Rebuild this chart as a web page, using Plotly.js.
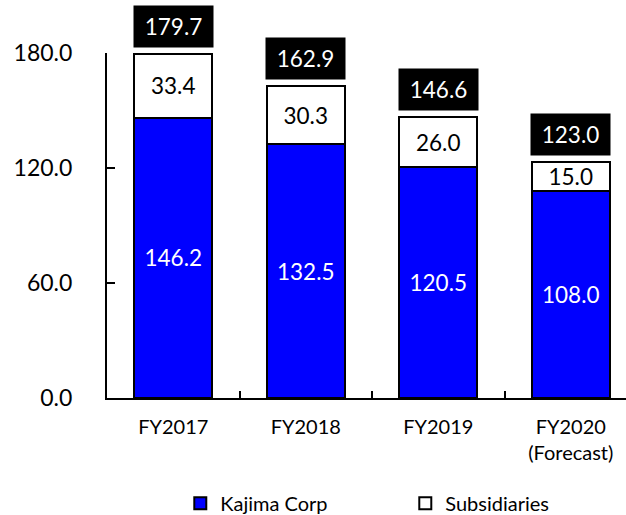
<!DOCTYPE html>
<html>
<head>
<meta charset="utf-8">
<script src="https://cdn.plot.ly/plotly-3.0.1.min.js"></script>
<style>html,body{margin:0;padding:0;background:#fff;}#chart{width:626px;height:515px;}</style>
</head>
<body>
<div id="chart"></div>
<script>
// Data
const categories = ["FY2017", "FY2018", "FY2019", "FY2020<br>(Forecast)"];
const kajimaCorp = [146.2, 132.5, 120.5, 108.0];
const subsidiaries = [33.4, 30.3, 26.0, 15.0];
const totals = [179.7, 162.9, 146.6, 123.0];
const yTicks = [0, 60, 120, 180];

const FONT = "Lato, 'Open Sans', sans-serif";

const traces = [
  {
    type: "bar",
    name: "Kajima Corp",
    x: categories,
    y: kajimaCorp,
    marker: {color: "#0000FF", line: {color: "#000000", width: 2}},
    text: kajimaCorp.map(v => v.toFixed(1)),
    textposition: "inside",
    insidetextanchor: "middle",
    constraintext: "none",
    textfont: {family: FONT, size: 22.5, color: "#FFFFFF"},
    hoverinfo: "none",
    cliponaxis: false
  },
  {
    type: "bar",
    name: "Subsidiaries",
    x: categories,
    y: subsidiaries,
    marker: {color: "#FFFFFF", line: {color: "#000000", width: 2}},
    text: subsidiaries.map(v => v.toFixed(1)),
    textposition: "inside",
    insidetextanchor: "middle",
    constraintext: "none",
    textfont: {family: FONT, size: 22.5, color: "#000000"},
    hoverinfo: "none",
    cliponaxis: false
  }
];

const annotations = categories.map((c, i) => ({
  x: c,
  y: totals[i],
  xref: "x",
  yref: "y",
  text: totals[i].toFixed(1),
  showarrow: false,
  yanchor: "bottom",
  xanchor: "center",
  yshift: 6,
  bgcolor: "#000000",
  borderpad: 0,
  width: 79,
  height: 41,
  font: {family: FONT, size: 22.5, color: "#FFFFFF"}
}));

const layout = {
  width: 626,
  height: 515,
  margin: {l: 107, r: 0, t: 53, b: 117, pad: 0},
  paper_bgcolor: "#FFFFFF",
  plot_bgcolor: "#FFFFFF",
  barmode: "stack",
  bargap: 0.41,
  font: {family: FONT, color: "#000000"},
  showlegend: true,
  legend: {
    orientation: "h",
    traceorder: "normal",
    xref: "container",
    yref: "container",
    x: 0.288,
    y: 0.023,
    xanchor: "left",
    yanchor: "middle",
    font: {family: FONT, size: 20, color: "#000000"},
    entrywidth: 180,
    bgcolor: "rgba(0,0,0,0)"
  },
  xaxis: {
    type: "category",
    range: [-0.5, 3.417],
    showline: true,
    linecolor: "#000000",
    linewidth: 2,
    ticks: "inside",
    tickson: "boundaries",
    ticklen: 7,
    tickwidth: 2,
    tickcolor: "#000000",
    showgrid: false,
    zeroline: false,
    automargin: false,
    tickfont: {family: FONT, size: 20, color: "#000000"},
    ticklabelstandoff: 10
  },
  yaxis: {
    range: [0, 180],
    tickvals: yTicks,
    tickformat: ".1f",
    showline: true,
    linecolor: "#000000",
    linewidth: 2,
    ticks: "inside",
    ticklen: 8,
    tickwidth: 2,
    tickcolor: "#000000",
    showgrid: false,
    zeroline: false,
    automargin: false,
    tickfont: {family: FONT, size: 23, color: "#000000"},
    ticklabelstandoff: 28
  },
  annotations: annotations
};

Plotly.newPlot("chart", traces, layout, {displayModeBar: false, staticPlot: true});
</script>
</body>
</html>
